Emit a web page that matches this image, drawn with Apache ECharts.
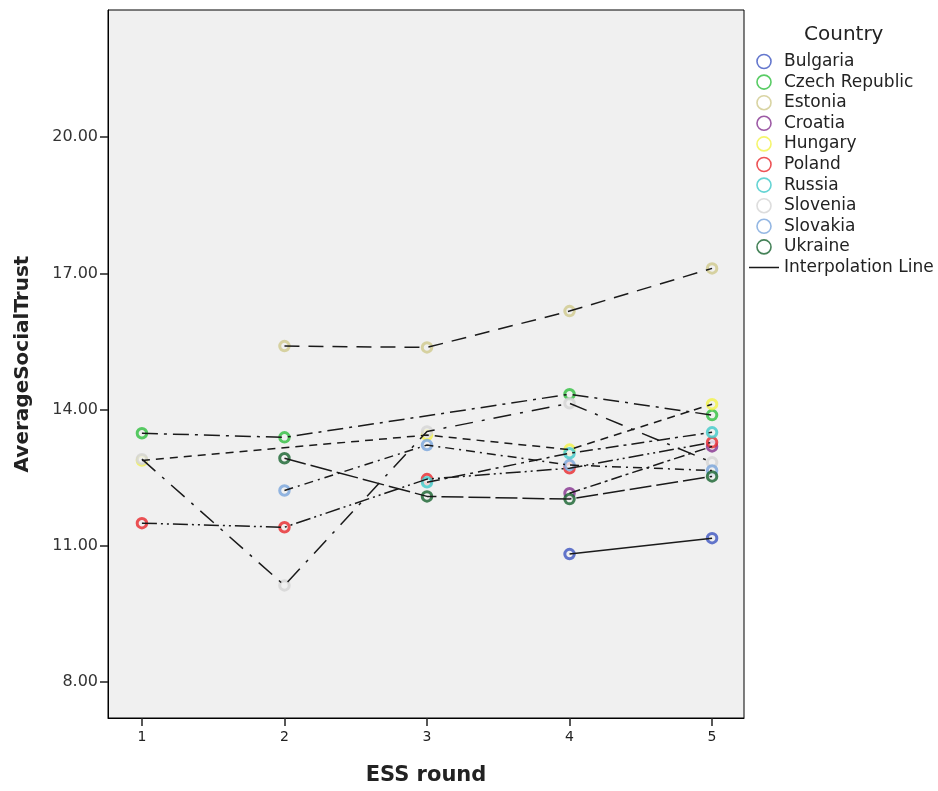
<!DOCTYPE html>
<html><head><meta charset="utf-8">
<script src="https://cdn.jsdelivr.net/npm/echarts@6/dist/echarts.min.js"></script>
<style>html,body{margin:0;padding:0;background:#fff}#c{width:938px;height:791px}</style>
</head><body><div id="c"></div><script>
// ---- data ----
const rounds = [1, 2, 3, 4, 5];
const countries = ['Bulgaria','Czech Republic','Estonia','Croatia','Hungary','Poland','Russia','Slovenia','Slovakia','Ukraine'];
const bulgaria = [null, null, null, 10.82, 11.17];
const czech    = [13.48, 13.39, null, 14.34, 13.88];
const estonia  = [null, 15.40, 15.37, 16.17, 17.11];
const croatia  = [null, null, null, 12.16, 13.19];
const hungary  = [12.88, null, 13.44, 13.12, 14.12];
const poland   = [11.50, 11.41, 12.47, 12.71, 13.28];
const russia   = [null, null, 12.40, 13.04, 13.50];
const slovenia = [12.91, 10.13, 13.52, 14.14, 12.84];
const slovakia = [null, 12.22, 13.22, 12.78, 12.66];
const ukraine  = [null, 12.93, 12.09, 12.03, 12.53];
const yTicks = [8, 11, 14, 17, 20];
const xTicks = [1, 2, 3, 4, 5];

// ---- styles ----
const values = [bulgaria, czech, estonia, croatia, hungary, poland, russia, slovenia, slovakia, ukraine];
const colors = ['#3d55c0','#2fbf3f','#cfc98c','#85318f','#f2f247','#e8282c','#3ec9c9','#d4d4d4','#79a5dc','#17632e'];
const dashes = [
  'solid',
  [16, 6, 3, 6],
  [15, 9],
  [11, 4, 3, 4],
  [8, 6],
  [15, 4, 2, 4, 2, 4],
  [13, 5, 3, 5],
  [18, 9, 3, 9],
  [9, 5, 2, 5],
  [22, 5]
];
const FONT = 'DejaVu Sans';

const series = [];
countries.forEach((name, i) => {
  const pts = [];
  rounds.forEach((r, j) => { if (values[i][j] != null) pts.push([r, values[i][j]]); });
  series.push({
    name: name + ' line', type: 'line', data: pts, symbol: 'none', silent: true, z: 3,
    lineStyle: { color: '#1a1a1a', width: 1.5, type: dashes[i] }
  });
  series.push({
    name: name, type: 'scatter', data: pts, symbol: 'circle', symbolSize: 9.5, z: 2,
    itemStyle: { color: '#f0f0f0', borderColor: colors[i], borderWidth: 3 }
  });
});
series.push({ name: 'Interpolation Line', type: 'line', data: [], symbol: 'none',
  itemStyle: { color: '#1a1a1a' }, lineStyle: { color: '#1a1a1a', width: 1.5 } });

const legendData = countries.map((n, i) => ({
  name: n, icon: 'circle',
  itemStyle: { color: '#ffffff', borderColor: colors[i], borderWidth: 1.6 }
}));
legendData.push({
  name: 'Interpolation Line',
  icon: 'path://M0,0h0.01v0.01h-0.01z M0,6.3h30v1.5h-30z M29.99,13.99h0.01v0.01h-0.01z',
  itemStyle: { color: '#1a1a1a', borderWidth: 0 }
});

const chart = echarts.init(document.getElementById('c'), null, { renderer: 'canvas' });
chart.setOption({
  animation: false,
  backgroundColor: '#ffffff',
  textStyle: { fontFamily: FONT },
  title: {
    text: 'Country', left: 799, top: 20,
    textStyle: { fontFamily: FONT, fontSize: 20, fontWeight: 'normal', color: '#222' }
  },
  legend: {
    orient: 'vertical', left: 749, top: 53, padding: 0, itemWidth: 30, itemHeight: 14, itemGap: 3.6,
    selectedMode: false, data: legendData,
    textStyle: { fontFamily: FONT, fontSize: 17, color: '#222' }
  },
  grid: {
    left: 108, top: 10, right: 194, bottom: 73, show: true,
    backgroundColor: '#f0f0f0', borderColor: '#000', borderWidth: 1
  },
  xAxis: {
    type: 'value', min: 0.762, max: 5.224,
    name: 'ESS round', nameLocation: 'middle', nameGap: 47,
    nameTextStyle: { fontFamily: FONT, fontSize: 21, fontWeight: 'bold', color: '#222' },
    axisLine: { show: true, lineStyle: { color: '#000', width: 1 } },
    axisTick: { show: true, length: 8, customValues: xTicks, lineStyle: { color: '#222', width: 1.5 } },
    axisLabel: { customValues: xTicks, margin: 12, fontSize: 14, color: '#222', fontFamily: FONT },
    splitLine: { show: false }
  },
  yAxis: {
    type: 'value', min: 7.21, max: 22.80,
    name: 'AverageSocialTrust', nameLocation: 'middle', nameGap: 75,
    nameTextStyle: { fontFamily: FONT, fontSize: 20, fontWeight: 'bold', color: '#222' },
    axisLine: { show: true, lineStyle: { color: '#000', width: 1 } },
    axisTick: { show: true, length: 8, customValues: yTicks, lineStyle: { color: '#222', width: 1.5 } },
    axisLabel: { customValues: yTicks, margin: 10, fontSize: 16, color: '#333', fontFamily: FONT,
      formatter: v => v.toFixed(2) },
    splitLine: { show: false }
  },
  series: series
});
</script></body></html>
